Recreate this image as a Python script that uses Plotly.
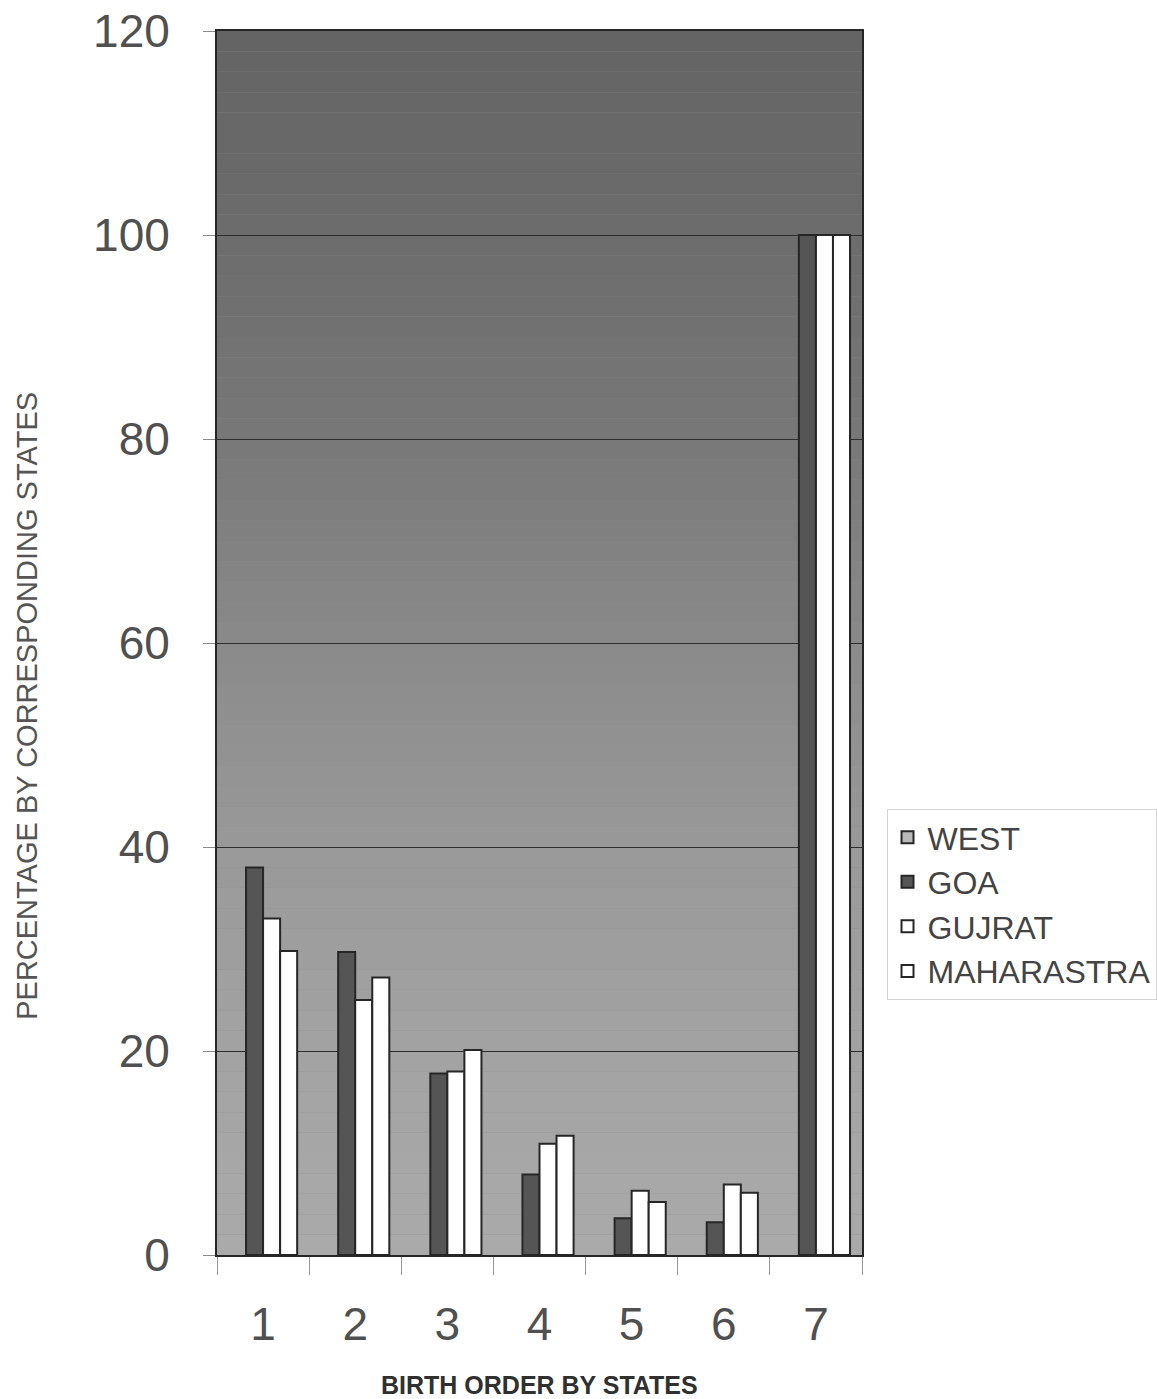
import plotly.graph_objects as go

# Birth order categories and percentage shares per state
birth_order = ["1", "2", "3", "4", "5", "6", "7"]
west = [None, None, None, None, None, None, None]
goa = [38.0, 29.7, 17.8, 7.9, 3.6, 3.2, 100.0]
gujrat = [33.0, 25.0, 18.0, 10.9, 6.3, 6.9, 100.0]
maharastra = [29.8, 27.2, 20.1, 11.7, 5.2, 6.1, 100.0]
y_ticks = [0, 20, 40, 60, 80, 100, 120]

FONT = "Liberation Sans, Arial, sans-serif"
EDGE = "#262626"

fig = go.Figure()
series = [
    ("WEST", west, "#b9b9b9"),
    ("GOA", goa, "#555555"),
    ("GUJRAT", gujrat, "#ffffff"),
    ("MAHARASTRA", maharastra, "#ffffff"),
]
for name, vals, color in series:
    fig.add_trace(go.Bar(
        x=birth_order, y=vals, name=name, legendgroup=name,
        marker=dict(color=color, line=dict(color=EDGE, width=2)),
    ))

# Shaded plot background: dark at the top, lighter towards the baseline
stops = [(0, 170), (20, 163), (40, 153), (60, 138), (80, 120), (100, 108), (120, 100)]
shapes = []
n_bands = 60
for i in range(n_bands):
    y0 = 120 * i / n_bands
    y1 = 120 * (i + 1) / n_bands
    ym = (y0 + y1) / 2
    for (a, ga), (b, gb) in zip(stops[:-1], stops[1:]):
        if a <= ym <= b:
            g = round(ga + (gb - ga) * (ym - a) / (b - a))
            break
    shapes.append(dict(type="rect", xref="paper", yref="y", x0=0, x1=1, y0=y0, y1=y1,
                       fillcolor=f"rgb({g},{g},{g})", line=dict(width=0), layer="below"))

fig.update_layout(
    width=1157, height=1399, autosize=False,
    margin=dict(l=217, r=295, t=31, b=144, autoexpand=False),
    paper_bgcolor="white", plot_bgcolor="rgb(140,140,140)",
    barmode="group", bargap=0.26, bargroupgap=0,
    font=dict(family=FONT, color="#555555"),
    shapes=shapes,
    legend=dict(
        x=1.038, xanchor="left", y=0.3645, yanchor="top",
        font=dict(size=32, color="#444444", family=FONT),
        bordercolor="#d4d4d4", borderwidth=1, bgcolor="white",
        tracegroupgap=10, traceorder="normal",
    ),
    xaxis=dict(
        type="category", tickfont=dict(size=46, color="#505050"),
        ticks="outside", tickson="boundaries", ticklen=18, tickcolor="#9a9a9a",
        ticklabelstandoff=28, automargin=False,
        showline=True, linecolor=EDGE, linewidth=2, mirror=True,
        showgrid=False,
    ),
    yaxis=dict(
        range=[0, 120], tickvals=y_ticks, tickfont=dict(size=46, color="#505050"),
        ticks="outside", ticklen=12, tickcolor="#8a8a8a", ticklabelstandoff=24,
        automargin=False,
        showline=True, linecolor=EDGE, linewidth=2, mirror=True,
        showgrid=True, gridcolor="#2e2e2e", gridwidth=1, zeroline=False,
    ),
    annotations=[
        dict(text="BIRTH ORDER BY STATES", xref="paper", yref="paper", x=0.5, y=-0.106,
             xanchor="center", yanchor="middle", showarrow=False,
             font=dict(size=25, color="#303030", family=FONT, weight="bold")),
        dict(text="PERCENTAGE BY CORRESPONDING STATES", xref="paper", yref="paper",
             x=-0.294, y=0.449, xanchor="center", yanchor="middle", textangle=-90,
             showarrow=False, font=dict(size=29, color="#555555", family=FONT)),
    ],
)

fig.write_html("out.html")
